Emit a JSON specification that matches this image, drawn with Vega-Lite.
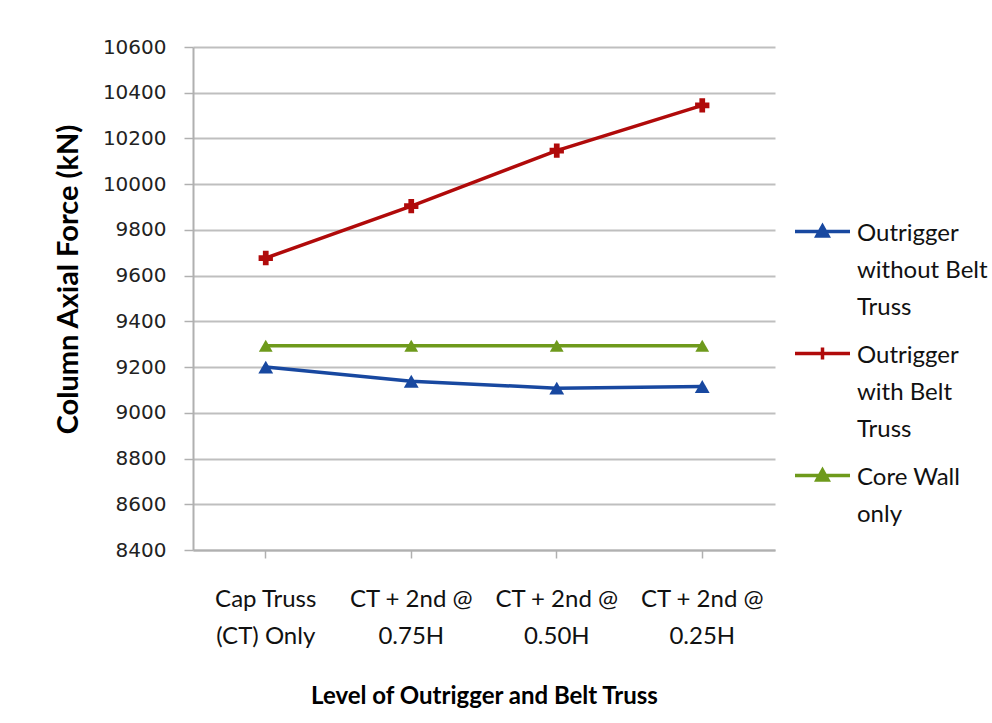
{
  "$schema": "https://vega.github.io/schema/vega-lite/v6.json",
  "width": 582,
  "height": 503,
  "autosize": "none",
  "padding": {"left": 193, "top": 47, "right": 217, "bottom": 173},
  "background": "white",
  "config": {
    "view": {"stroke": null},
    "font": "Lato"
  },
  "data": {
    "values": [
      {"level": "Cap Truss (CT) Only", "series": "Outrigger without Belt Truss", "force": 9200},
      {"level": "CT + 2nd @ 0.75H", "series": "Outrigger without Belt Truss", "force": 9138},
      {"level": "CT + 2nd @ 0.50H", "series": "Outrigger without Belt Truss", "force": 9108},
      {"level": "CT + 2nd @ 0.25H", "series": "Outrigger without Belt Truss", "force": 9115},
      {"level": "Cap Truss (CT) Only", "series": "Outrigger with Belt Truss", "force": 9677},
      {"level": "CT + 2nd @ 0.75H", "series": "Outrigger with Belt Truss", "force": 9904},
      {"level": "CT + 2nd @ 0.50H", "series": "Outrigger with Belt Truss", "force": 10147},
      {"level": "CT + 2nd @ 0.25H", "series": "Outrigger with Belt Truss", "force": 10345},
      {"level": "Cap Truss (CT) Only", "series": "Core Wall only", "force": 9293},
      {"level": "CT + 2nd @ 0.75H", "series": "Core Wall only", "force": 9293},
      {"level": "CT + 2nd @ 0.50H", "series": "Core Wall only", "force": 9293},
      {"level": "CT + 2nd @ 0.25H", "series": "Core Wall only", "force": 9293}
    ]
  },
  "encoding": {
    "x": {
      "field": "level",
      "type": "nominal",
      "sort": null,
      "scale": {"type": "band", "paddingInner": 0, "paddingOuter": 0},
      "axis": {
        "title": "Level of Outrigger and Belt Truss",
        "titleFont": "Lato",
        "titleFontSize": 24,
        "titleFontWeight": "bold",
        "titleColor": "#000000",
        "titlePadding": 36,
        "labelAngle": 0,
        "labelFont": "Lato",
        "labelFontSize": 24,
        "labelColor": "#111111",
        "labelPadding": 41,
        "labelLineHeight": 37,
        "labelBaseline": "middle",
        "labelExpr": "datum.label == 'Cap Truss (CT) Only' ? ['Cap Truss', '(CT) Only'] : datum.label == 'CT + 2nd @ 0.75H' ? ['CT + 2nd @', '0.75H'] : datum.label == 'CT + 2nd @ 0.50H' ? ['CT + 2nd @', '0.50H'] : ['CT + 2nd @', '0.25H']",
        "domainColor": "#b0b0b0",
        "domainWidth": 2,
        "tickColor": "#b0b0b0",
        "tickWidth": 1.5,
        "tickSize": 8,
        "grid": false
      }
    },
    "y": {
      "field": "force",
      "type": "quantitative",
      "scale": {"domain": [8400, 10600], "nice": false, "zero": false},
      "axis": {
        "title": "Column Axial Force (kN)",
        "titleFont": "Lato",
        "titleFontSize": 29,
        "titleFontWeight": "bold",
        "titleColor": "#000000",
        "titlePadding": 19,
        "titleY": 232,
        "values": [8400, 8600, 8800, 9000, 9200, 9400, 9600, 9800, 10000, 10200, 10400, 10600],
        "format": "d",
        "labelFont": "DejaVu Sans",
        "labelFontSize": 20,
        "labelColor": "#222222",
        "labelPadding": 18,
        "tickSize": 9,
        "tickColor": "#b0b0b0",
        "tickWidth": 1.5,
        "domainColor": "#b0b0b0",
        "domainWidth": 2,
        "grid": true,
        "gridColor": "#bfbfbf",
        "gridWidth": 2
      }
    },
    "color": {
      "field": "series",
      "type": "nominal",
      "sort": ["Outrigger without Belt Truss", "Outrigger with Belt Truss", "Core Wall only"],
      "scale": {
        "domain": ["Outrigger without Belt Truss", "Outrigger with Belt Truss", "Core Wall only"],
        "range": ["#1848a0", "#b00a0a", "#6e9a1c"]
      }
    }
  },
  "layer": [
    {
      "mark": {"type": "line", "strokeWidth": 3.5},
      "encoding": {
        "color": {
          "field": "series",
          "type": "nominal",
          "sort": ["Outrigger without Belt Truss", "Outrigger with Belt Truss", "Core Wall only"],
          "scale": {
            "domain": ["Outrigger without Belt Truss", "Outrigger with Belt Truss", "Core Wall only"],
            "range": ["#1848a0", "#b00a0a", "#6e9a1c"]
          },
          "legend": {
            "title": null,
            "orient": "none",
            "legendX": 600,
            "legendY": 155,
            "padding": 0,
            "rowPadding": 4,
            "symbolType": "M-1,0H1M-0.2,0.16L0,-0.2L0.2,0.16Z",
            "symbolSize": 3025,
            "symbolStrokeWidth": 3.5,
            "labelFont": "Lato",
            "labelFontSize": 24,
            "labelColor": "#111111",
            "labelOffset": 5,
            "labelLimit": 200,
            "labelBaseline": "alphabetic",
            "labelExpr": "datum.label == 'Outrigger without Belt Truss' ? ['Outrigger', 'without Belt', 'Truss'] : datum.label == 'Outrigger with Belt Truss' ? ['Outrigger', 'with Belt', 'Truss'] : ['Core Wall', 'only']",
            "encode": {
              "labels": {"update": {"lineHeight": {"value": 37}, "dy": {"value": 9}}},
              "symbols": {
                "update": {
                  "shape": {"signal": "datum.value == 'Outrigger with Belt Truss' ? 'M-1,0H1M-0.22,0H0.22M0,-0.22V0.22' : 'M-1,0H1M-0.2,0.16L0,-0.2L0.2,0.16Z'"},
                  "fill": {"signal": "scale('color', datum.value)"},
                  "stroke": {"signal": "scale('color', datum.value)"},
                  "fillOpacity": {"value": 1},
                  "strokeOpacity": {"value": 1}
                }
              }
            }
          }
        }
      }
    },
    {
      "mark": {"type": "point", "filled": true, "opacity": 1},
      "encoding": {
        "color": {
          "field": "series",
          "type": "nominal",
          "scale": {
            "domain": ["Outrigger without Belt Truss", "Outrigger with Belt Truss", "Core Wall only"],
            "range": ["#1848a0", "#b00a0a", "#6e9a1c"]
          },
          "legend": null
        },
        "shape": {
          "field": "series",
          "type": "nominal",
          "scale": {
            "domain": ["Outrigger without Belt Truss", "Outrigger with Belt Truss", "Core Wall only"],
            "range": ["triangle-up", "cross", "triangle-up"]
          },
          "legend": null
        },
        "size": {
          "field": "series",
          "type": "nominal",
          "scale": {
            "domain": ["Outrigger without Belt Truss", "Outrigger with Belt Truss", "Core Wall only"],
            "range": [220, 190, 290]
          },
          "legend": null
        }
      }
    }
  ],
  "resolve": {"legend": {"color": "independent", "shape": "independent", "size": "independent"}}
}
